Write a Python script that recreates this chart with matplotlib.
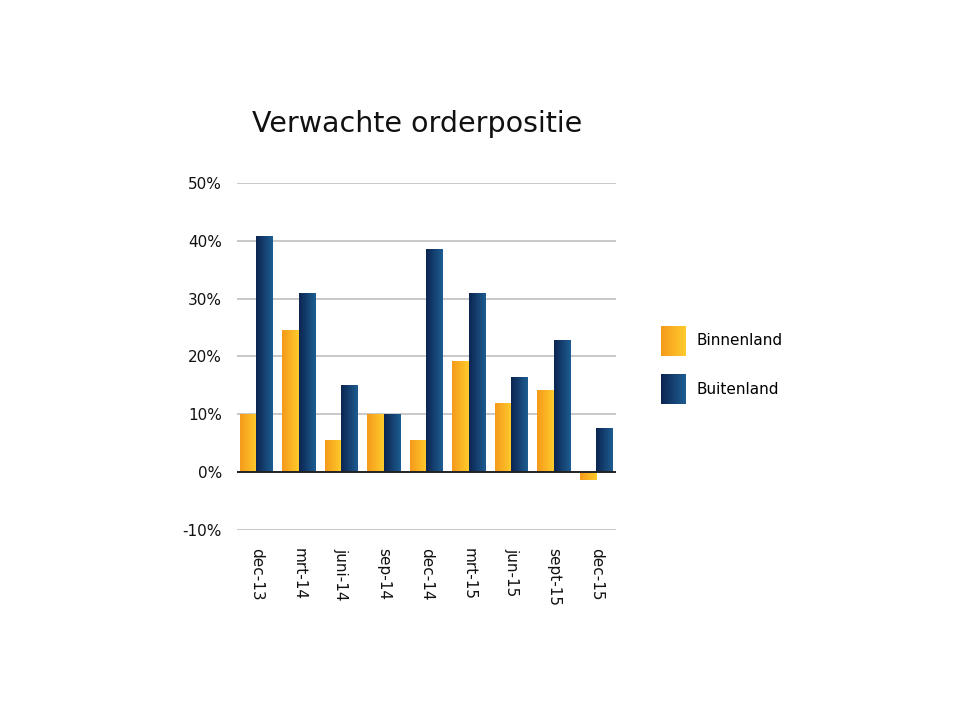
import numpy as np
import matplotlib
matplotlib.use("Agg")
import matplotlib.pyplot as plt
from matplotlib.colors import LinearSegmentedColormap
from matplotlib.legend_handler import HandlerBase
from matplotlib.image import BboxImage
from matplotlib.transforms import Bbox, TransformedBbox
from matplotlib.patches import Patch


categories = ['dec-13', 'mrt-14', 'juni-14', 'sep-14', 'dec-14',
              'mrt-15', 'jun-15', 'sept-15', 'dec-15']
binnenland = [10, 24.5, 5.5, 10, 5.5, 19.2, 11.9, 14.2, -1.3]
buitenland = [40.8, 30.9, 15, 10, 38.6, 31, 16.4, 22.9, 7.7]
yticks = [-10, 0, 10, 20, 30, 40, 50]

cmap_orange = LinearSegmentedColormap.from_list('o', ['#f59a1b', '#ffcb2c'])
cmap_blue = LinearSegmentedColormap.from_list('b', ['#0c2550', '#1d5d92'])
grad = np.linspace(0, 1, 64).reshape(1, -1)


def gradient_bars(ax, x, vals, width, cmap):
    bars = ax.bar(x, vals, width, color='none', edgecolor='none', zorder=3)
    for b in bars:
        x0, y0 = b.get_x(), b.get_y()
        w, h = b.get_width(), b.get_height()
        im = ax.imshow(grad, cmap=cmap, aspect='auto', interpolation='bicubic',
                       extent=[x0, x0 + w, y0, y0 + h], zorder=3)
        im.set_clip_path(b)
    return bars


class GradientHandler(HandlerBase):
    def __init__(self, cmap):
        super().__init__()
        self.cmap = cmap

    def create_artists(self, legend, orig_handle, xdescent, ydescent,
                       width, height, fontsize, trans):
        bb = Bbox.from_bounds(-xdescent, -ydescent, width, height)
        img = BboxImage(TransformedBbox(bb, trans), cmap=self.cmap,
                        interpolation='bicubic')
        img.set_data(grad)
        return [img]


fig = plt.figure(figsize=(9.6, 7.2), dpi=100)
ax = fig.add_axes([0.247, 0.264, 0.395, 0.482])

x = np.arange(len(categories))
w = 0.39
gradient_bars(ax, x - w / 2, binnenland, w, cmap_orange)
gradient_bars(ax, x + w / 2, buitenland, w, cmap_blue)

ax.set_xlim(-0.45, len(categories) - 1 + 0.47)
ax.set_ylim(-10, 50)
ax.set_yticks(yticks)
ax.set_yticklabels([f'{t}%' for t in yticks], fontsize=11)
ax.set_xticks(x)
ax.set_xticklabels(categories, rotation=-90, fontsize=11)
ax.tick_params(axis='both', length=0, colors='#111111')
ax.tick_params(axis='y', pad=11)
ax.tick_params(axis='x', pad=13)
for s in ax.spines.values():
    s.set_visible(False)
for t in yticks:
    if t != 0:
        ax.axhline(t, color='#c8c8c8', lw=1.4, zorder=1)
ax.axhline(0, color='#222222', lw=1.4, zorder=4)

fig.text(0.435, 0.828, 'Verwachte orderpositie', fontsize=20.5,
         ha='center', va='center', color='#111111')

h1 = Patch(label='Binnenland')
h2 = Patch(label='Buitenland')
fig.legend([h1, h2], ['Binnenland', 'Buitenland'],
           handler_map={h1: GradientHandler(cmap_orange),
                        h2: GradientHandler(cmap_blue)},
           loc='center left', bbox_to_anchor=(0.674, 0.493), frameon=False,
           fontsize=11, handlelength=1.6, handleheight=2.64,
           labelspacing=1.2, handletextpad=0.75)

fig.savefig('out.png', dpi=100)
